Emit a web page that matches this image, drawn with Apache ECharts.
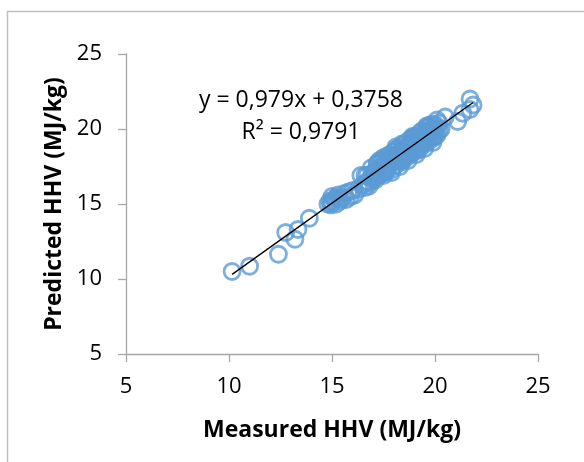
<!DOCTYPE html>
<html>
<head>
<meta charset="utf-8">
<script src="https://cdn.jsdelivr.net/npm/echarts@6/dist/echarts.min.js"></script>
<style>
  html, body { margin: 0; padding: 0; background: #fff; }
  #draw { width: 584px; height: 462px; }
</style>
</head>
<body>
<div id="draw"></div>
<script>
// measured vs predicted HHV (MJ/kg)
var measured = [
	10.15, 11.0, 12.4, 12.75, 13.2, 13.35, 13.9,
	14.8, 14.9, 14.95, 15.0, 15.0, 15.1, 15.2, 15.2, 15.3, 15.35, 15.4, 15.5, 15.6, 15.7, 15.8, 15.9, 16.0, 16.1,
	16.3, 16.5, 16.6, 16.7, 16.8, 16.9, 17.0, 17.1, 17.2, 17.3, 17.4, 17.5, 17.5, 17.6, 17.7, 17.8, 17.9, 17.9,
	18.0, 18.1, 18.1, 18.2, 18.3, 18.3, 18.4, 18.5, 18.5, 18.6, 18.7, 18.7, 18.8, 18.9, 18.9, 19.0, 19.0, 19.1,
	19.2, 19.2, 19.3, 19.4, 19.4, 19.5, 19.6, 19.6, 19.7, 19.8, 19.8, 19.9, 20.0, 20.0, 20.1, 20.1, 20.2, 20.3,
	17.0, 17.3, 17.6, 17.8, 18.0, 18.2, 18.4, 18.6, 18.8, 19.0, 19.2, 19.5, 19.7, 19.9, 18.9, 18.5, 19.3, 19.8,
	16.4, 16.6, 16.9, 17.1, 17.3, 17.5, 17.7, 17.9, 18.1, 18.3, 18.5, 18.7, 18.9, 19.1, 19.3, 19.5, 19.7, 19.9, 20.1,
	16.7, 17.2, 17.6, 18.0, 18.4, 18.8, 19.2, 19.6, 20.0, 20.2,
	17.4, 17.8, 18.2, 18.6, 19.0, 19.4, 19.8, 16.8, 17.1, 17.7, 18.3, 18.7, 19.1, 19.5, 19.9,
	17.5, 18.1, 18.9, 19.6, 17.2, 18.4,
	20.5, 21.1, 21.35, 21.7, 21.7, 21.85
];
var predicted = [
	10.5, 10.85, 11.65, 13.1, 12.65, 13.3, 14.05,
	15.0, 15.2, 14.95, 15.1, 15.5, 15.3, 15.0, 15.4, 15.6, 15.35, 15.2, 15.4, 15.7, 15.3, 15.8, 15.5, 15.9, 15.6,
	16.0, 16.3, 16.9, 16.5, 16.2, 16.8, 16.6, 17.2, 16.9, 17.4, 17.0, 17.6, 17.2, 17.9, 17.4, 17.7, 18.1, 17.3,
	17.8, 18.3, 17.6, 18.0, 18.5, 17.9, 18.2, 18.7, 18.0, 18.4, 18.9, 18.2, 18.6, 19.1, 18.4, 18.8, 19.3, 18.6,
	19.0, 19.5, 18.8, 19.2, 19.6, 19.0, 19.4, 19.8, 19.2, 19.6, 20.0, 19.4, 19.8, 20.3, 20.1, 19.6, 20.4, 20.0,
	17.1, 17.2, 17.5, 18.0, 18.1, 18.2, 18.5, 18.7, 18.8, 19.1, 19.2, 19.4, 19.7, 20.0, 19.0, 18.4, 19.2, 19.9,
	16.9, 16.1, 17.4, 16.6, 17.9, 16.9, 18.2, 17.1, 18.6, 17.5, 19.0, 17.9, 19.4, 18.3, 19.8, 18.7, 20.2, 19.1, 20.6,
	16.9, 17.7, 17.1, 18.5, 17.8, 19.3, 18.6, 20.1, 19.5, 19.9,
	17.9, 18.3, 18.7, 19.1, 19.5, 19.9, 20.3, 16.4, 16.8, 17.3, 17.9, 18.3, 18.7, 19.1, 19.5,
	18.1, 18.8, 19.5, 20.2, 17.7, 19.0,
	20.8, 20.5, 21.05, 21.3, 22.0, 21.6
];
var xTicks = [5, 10, 15, 20, 25];
var slope = 0.979, intercept = 0.3758;
var eqText = 'y = 0,979x + 0,3758\nR² = 0,9791';

var myChart = echarts.init(document.getElementById('draw'));

var points = measured.map(function(x, i) {
	return [x, predicted[i]];
});
var xmin = Math.min.apply(null, measured);
var xmax = Math.max.apply(null, measured);
var trend = [[xmin, slope * xmin + intercept], [xmax, slope * xmax + intercept]];

var font = 'Open Sans';
var axisGrey = '#a6a6a6';

var option = {
	animation : false,
	grid : {
		left : 126,
		right : 46,
		top : 54,
		bottom : 108
	},
	xAxis : {
		type : 'value',
		min : xTicks[0],
		max : xTicks[xTicks.length - 1],
		interval : 5,
		name : 'Measured HHV (MJ/kg)',
		nameLocation : 'middle',
		nameGap : 65,
		nameTextStyle : { fontFamily : font, fontSize : 23, fontWeight : 'bold', color : '#000' },
		axisLine : { show : true, lineStyle : { color : axisGrey, width : 1.3 } },
		axisTick : { show : true, length : 8, lineStyle : { color : axisGrey, width : 1.3 } },
		axisLabel : { margin : 22, fontFamily : font, fontSize : 22, color : '#000' },
		splitLine : { show : false }
	},
	yAxis : {
		type : 'value',
		min : 5,
		max : 25,
		interval : 5,
		name : 'Predicted HHV (MJ/kg)',
		nameLocation : 'middle',
		nameGap : 60,
		nameTextStyle : { fontFamily : font, fontSize : 23, fontWeight : 'bold', color : '#000' },
		axisLine : { show : true, lineStyle : { color : axisGrey, width : 1.3 } },
		axisTick : { show : true, length : 8, lineStyle : { color : axisGrey, width : 1.3 } },
		axisLabel : { margin : 24, fontFamily : font, fontSize : 22, color : '#000' },
		splitLine : { show : false }
	},
	graphic : [ {
		type : 'polyline',
		shape : { points : [[7.5, 462], [7.5, 11.5], [584, 11.5]] },
		style : { stroke : '#bfbfbf', lineWidth : 1.5, fill : null }
	}, {
		type : 'text',
		x : 301,
		y : 84,
		style : {
			text : eqText,
			fontFamily : font,
			fontSize : 23,
			lineHeight : 32,
			align : 'center',
			verticalAlign : 'top',
			fill : '#000'
		},
		z : 10
	} ],
	series : [ {
		name : 'HHV',
		type : 'scatter',
		data : points,
		symbol : 'circle',
		symbolSize : 16,
		itemStyle : {
			color : 'rgba(0,0,0,0)',
			borderColor : '#5b9bd5',
			borderWidth : 2.8
		},
		z : 2
	}, {
		name : 'trend',
		type : 'line',
		data : trend,
		symbol : 'none',
		lineStyle : { color : '#000', width : 1.4 },
		z : 3
	} ]
};

myChart.setOption(option);
</script>
</body>
</html>
